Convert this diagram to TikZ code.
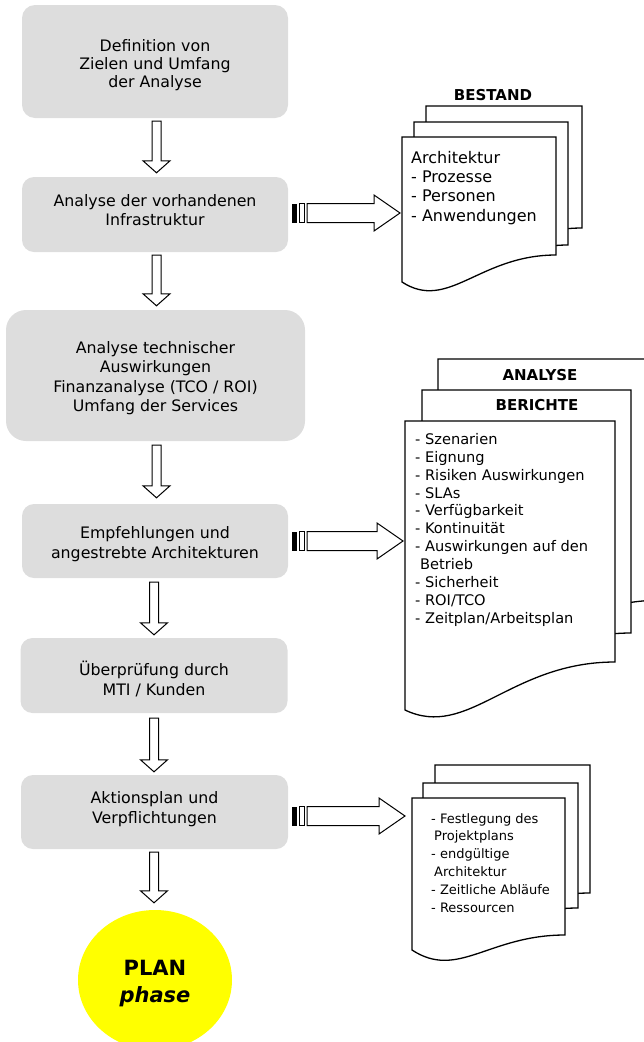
\documentclass[tikz,border=0pt]{standalone}
\usepackage{fontspec}
\setmainfont{DejaVu Sans}
\usetikzlibrary{calc,shapes.geometric}
\definecolor{boxgray}{RGB}{221,221,221}
\definecolor{planyellow}{RGB}{255,255,0}
\tikzset{
  box/.style={fill=boxgray, rounded corners=12pt, inner sep=0pt},
  boxtext/.style={align=center, inner sep=0pt, font=\fontsize{15.8}{19.5}\selectfont},
  blockarrow/.style={draw=black, fill=white, line width=1pt, line join=miter},
  docline/.style={draw=black, fill=white, line width=1.3pt, line join=miter},
  doctitle/.style={inner sep=0pt, font=\bfseries\fontsize{15}{18}\selectfont},
  listA/.style={inner sep=0pt, align=left, anchor=north west, font=\fontsize{16}{19.3}\selectfont},
  listB/.style={inner sep=0pt, align=left, anchor=north west, font=\fontsize{14.6}{17.9}\selectfont},
  listC/.style={inner sep=0pt, align=left, anchor=north west, font=\fontsize{13}{17.8}\selectfont},
}
% vertical hollow block arrow: from node, to node, x, top gap, bottom gap
\newcommand{\vblock}[5]{%
  \draw[blockarrow] let \p1=(#1.south), \p2=(#2.north) in
    (#3pt-4.5pt,\y1-#4pt) -- (#3pt+4.5pt,\y1-#4pt) -- (#3pt+4.5pt,\y2+#5pt+12pt)
    -- (#3pt+13.5pt,\y2+#5pt+12pt) -- (#3pt,\y2+#5pt) -- (#3pt-13.5pt,\y2+#5pt+12pt)
    -- (#3pt-4.5pt,\y2+#5pt+12pt) -- cycle;}
% horizontal striped block arrow: from node, to coordinate, y
\newcommand{\hblock}[3]{%
  \fill let \p1=(#1.east) in (\x1+4pt,-#3pt-9.5pt) rectangle (\x1+9pt,-#3pt+9.5pt);
  \draw[blockarrow] let \p1=(#1.east) in (\x1+11pt,-#3pt-9.5pt) rectangle (\x1+16pt,-#3pt+9.5pt);
  \draw[blockarrow] let \p1=(#1.east), \p2=(#2) in
    (\x1+19pt,-#3pt+9.5pt) -- (\x2-28pt,-#3pt+9.5pt) -- (\x2-28pt,-#3pt+18pt)
    -- (\x2-2pt,-#3pt) -- (\x2-28pt,-#3pt-18pt) -- (\x2-28pt,-#3pt-9.5pt)
    -- (\x1+19pt,-#3pt-9.5pt) -- cycle;}
% document page with wavy bottom: L R T Bright Bleft
\newcommand{\docpage}[5]{%
  \draw[docline] (#1,#3) -- (#2,#3) -- (#2,#4)
    .. controls ({#2-0.5*(#2-#1)},#4) and ({#1+0.3*(#2-#1)},#5+30) .. (#1,#5) -- cycle;}
\begin{document}
\begin{tikzpicture}[x=1pt,y=-1pt]
\useasboundingbox (0,0) rectangle (644,1042);
\clip (0,0) rectangle (644,1042);

% process boxes
\node[box, minimum width=266, minimum height=113, rounded corners=13pt] (b1) at (155,61.5) {};
\node[boxtext, font=\fontsize{15.8}{18}\selectfont] (b1t) at (155,65.2) {Definition von\\Zielen und Umfang\\der Analyse};
\node[box, minimum width=266, minimum height=75] (b2) at (155,214.5) {};
\node[boxtext] (b2t) at (155,210.2) {Analyse der vorhandenen\\Infrastruktur};
\node[box, minimum width=299, minimum height=131, rounded corners=20pt] (b3) at (155.5,375.5) {};
\node[boxtext, font=\fontsize{15.8}{19.3}\selectfont] (b3t) at (155.5,378.2)
  {Analyse technischer\\Auswirkungen\\Finanzanalyse (TCO / ROI)\\Umfang der Services};
\node[box, minimum width=266, minimum height=74] (b4) at (155,541) {};
\node[boxtext, font=\fontsize{15.8}{20}\selectfont] (b4t) at (155,544.2) {Empfehlungen und\\angestrebte Architekturen};
\node[box, minimum width=267, minimum height=75] (b5) at (154,675.5) {};
\node[boxtext] (b5t) at (154,679.2) {Überprüfung durch\\MTI / Kunden};
\node[box, minimum width=267, minimum height=74] (b6) at (154.5,812) {};
\node[boxtext] (b6t) at (154.5,809.2) {Aktionsplan und\\Verpflichtungen};
\node[ellipse, fill=planyellow, minimum width=154, minimum height=140, inner sep=0pt] (plan) at (155,980) {};
\node[align=center, inner sep=0pt, font=\bfseries\fontsize{21}{27}\selectfont] (plant) at (155,983.5)
  {PLAN\\\textit{phase}};

% vertical arrows
\vblock{b1}{b2}{156.5}{3}{4}
\vblock{b2}{b3}{156.5}{3}{4}
\vblock{b3}{b4}{156.5}{4}{6}
\vblock{b4}{b5}{154}{4}{3}
\vblock{b5}{b6}{154}{5}{3}
\vblock{b6}{plan}{154}{3}{7}

% BESTAND documents
\node[doctitle] (tbestand) at (493,95) {BESTAND};
\docpage{426}{582}{106}{228}{255}
\docpage{414}{568}{122}{245}{272}
\docpage{402}{556}{137}{255}{282}
\node[listA] (bestand) at (411,151) {Architektur\\- Prozesse\\- Personen\\- Anwendungen};
\coordinate (bin) at (402,213);

% ANALYSE / BERICHTE documents
\docpage{438}{664}{359}{600}{650}
\node[doctitle] (tanalyse) at (540,375) {ANALYSE};
\docpage{422}{631}{390}{633}{680}
\node[doctitle] (tberichte) at (537,405) {BERICHTE};
\docpage{405}{615}{421}{662}{710}
\node[listB] (analyse) at (415,433) {- Szenarien\\- Eignung\\- Risiken Auswirkungen\\- SLAs\\- Verfügbarkeit\\- Kontinuität\\- Auswirkungen auf den\\\hspace*{5pt}Betrieb\\- Sicherheit\\- ROI/TCO\\- Zeitplan/Arbeitsplan};
\coordinate (ain) at (405,541);

% plan documents
\docpage{435}{590}{765}{893}{908}
\docpage{423}{578}{783}{908}{923}
\docpage{412}{565}{798}{935}{950}
\node[listC] (plandoc) at (431,813) {- Festlegung des\\\hspace*{3pt}Projektplans\\- endgültige\\\hspace*{3pt}Architektur\\- Zeitliche Abläufe\\- Ressourcen};
\coordinate (pin) at (407,816);

% horizontal arrows
\hblock{b2}{bin}{213}
\hblock{b4}{ain}{541}
\hblock{b6}{pin}{816}
\end{tikzpicture}
\end{document}
